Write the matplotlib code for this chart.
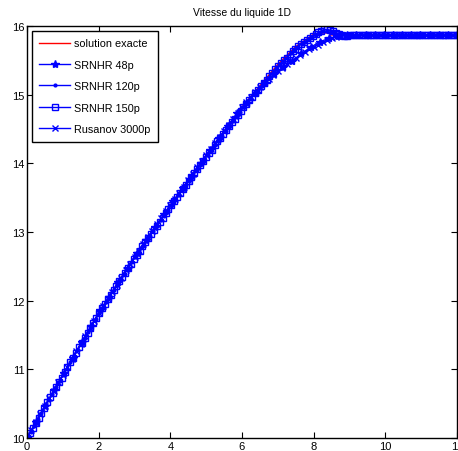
import numpy as np
import matplotlib
matplotlib.use("Agg")
import matplotlib.pyplot as plt

plt.rcParams['font.family'] = ['Liberation Sans', 'DejaVu Sans']

title = "Vitesse du liquide 1D"
labels = ["solution exacte", "SRNHR 48p", "SRNHR 120p", "SRNHR 150p", "Rusanov 3000p"]
xticks = [0, 2, 4, 6, 8, 10, 12]
yticks = [10, 11, 12, 13, 14, 15, 16]

# exact solution
x_exact = [0, 1, 2, 3, 4, 5, 6, 6.5, 7, 7.5, 8, 8.2, 8.45, 8.46, 12]
y_exact = [10.00, 10.92, 11.82, 12.64, 13.39, 14.12, 14.82, 15.13, 15.44, 15.70,
           15.88, 15.90, 15.90, 15.87, 15.87]

# SRNHR 48p (mesh 0..12, 48 points)
y_48 = [10.00, 10.23, 10.47, 10.70, 10.94, 11.17, 11.40, 11.63, 11.86, 12.06,
        12.27, 12.48, 12.69, 12.88, 13.07, 13.26, 13.45, 13.64, 13.82, 14.01,
        14.19, 14.37, 14.55, 14.73, 14.88, 15.03, 15.17, 15.30, 15.40, 15.49,
        15.60, 15.69, 15.77, 15.82, 15.85, 15.87, 15.87, 15.87, 15.87, 15.87,
        15.87, 15.87, 15.87, 15.87, 15.87, 15.87, 15.87, 15.87]

# SRNHR 120p (mesh 0..12, 120 points)
y_120 = [10.00, 10.09, 10.18, 10.28, 10.37, 10.46, 10.55, 10.64, 10.74, 10.83,
         10.92, 11.01, 11.10, 11.19, 11.28, 11.37, 11.46, 11.55, 11.64, 11.73,
         11.82, 11.90, 11.98, 12.07, 12.15, 12.23, 12.31, 12.39, 12.48, 12.56,
         12.64, 12.72, 12.79, 12.87, 12.94, 13.02, 13.09, 13.17, 13.24, 13.32,
         13.39, 13.46, 13.54, 13.61, 13.68, 13.76, 13.83, 13.90, 13.97, 14.05,
         14.12, 14.19, 14.26, 14.33, 14.40, 14.47, 14.54, 14.61, 14.68, 14.75,
         14.82, 14.88, 14.94, 15.01, 15.07, 15.13, 15.19, 15.25, 15.32, 15.38,
         15.44, 15.49, 15.54, 15.60, 15.65, 15.70, 15.74, 15.77, 15.81, 15.84,
         15.87, 15.90, 15.92, 15.93, 15.93, 15.91, 15.89, 15.88, 15.87, 15.86,
         15.87, 15.87, 15.87, 15.87, 15.87, 15.87, 15.87, 15.87, 15.87, 15.87,
         15.87, 15.87, 15.87, 15.87, 15.87, 15.87, 15.87, 15.87, 15.87, 15.87,
         15.87, 15.87, 15.87, 15.87, 15.87, 15.87, 15.87, 15.87, 15.87, 15.87]

# SRNHR 150p (mesh 0..12, 150 points)
y_150 = [10.00, 10.07, 10.15, 10.22, 10.29, 10.37, 10.44, 10.52, 10.59, 10.66,
         10.74, 10.81, 10.88, 10.96, 11.03, 11.10, 11.17, 11.24, 11.32, 11.39,
         11.46, 11.53, 11.60, 11.68, 11.75, 11.82, 11.89, 11.95, 12.02, 12.08,
         12.15, 12.21, 12.28, 12.34, 12.41, 12.48, 12.54, 12.61, 12.67, 12.73,
         12.79, 12.85, 12.91, 12.97, 13.03, 13.09, 13.15, 13.21, 13.27, 13.33,
         13.39, 13.45, 13.51, 13.57, 13.62, 13.68, 13.74, 13.80, 13.86, 13.92,
         13.97, 14.03, 14.09, 14.15, 14.20, 14.26, 14.32, 14.37, 14.43, 14.48,
         14.54, 14.60, 14.65, 14.71, 14.76, 14.82, 14.87, 14.92, 14.97, 15.02,
         15.07, 15.12, 15.17, 15.22, 15.27, 15.32, 15.37, 15.42, 15.46, 15.50,
         15.54, 15.59, 15.63, 15.67, 15.71, 15.74, 15.76, 15.79, 15.82, 15.85,
         15.88, 15.91, 15.93, 15.95, 15.95, 15.94, 15.92, 15.90, 15.88, 15.87,
         15.86, 15.86, 15.87, 15.87, 15.87, 15.87, 15.87, 15.87, 15.87, 15.87,
         15.87, 15.87, 15.87, 15.87, 15.87, 15.87, 15.87, 15.87, 15.87, 15.87,
         15.87, 15.87, 15.87, 15.87, 15.87, 15.87, 15.87, 15.87, 15.87, 15.87,
         15.87, 15.87, 15.87, 15.87, 15.87, 15.87, 15.87, 15.87, 15.87, 15.87]

# Rusanov (mesh 0..12, sampled every 0.125)
y_rus = [10.00, 10.12, 10.23, 10.35, 10.46, 10.58, 10.69, 10.81, 10.92, 11.03,
         11.15, 11.26, 11.37, 11.48, 11.60, 11.71, 11.82, 11.92, 12.03, 12.13,
         12.23, 12.33, 12.44, 12.54, 12.64, 12.73, 12.83, 12.92, 13.02, 13.11,
         13.20, 13.30, 13.39, 13.48, 13.57, 13.66, 13.76, 13.85, 13.94, 14.03,
         14.12, 14.21, 14.30, 14.38, 14.47, 14.56, 14.65, 14.73, 14.82, 14.89,
         14.97, 15.04, 15.11, 15.17, 15.23, 15.29, 15.34, 15.39, 15.44, 15.49,
         15.53, 15.58, 15.62, 15.66, 15.70, 15.73, 15.76, 15.79, 15.82, 15.84,
         15.85, 15.86, 15.87, 15.87, 15.87, 15.87, 15.87, 15.87, 15.87, 15.87,
         15.87, 15.87, 15.87, 15.87, 15.87, 15.87, 15.87, 15.87, 15.87, 15.87,
         15.87, 15.87, 15.87, 15.87, 15.87, 15.87, 15.87]

x_48 = np.linspace(0, 12, len(y_48))
x_120 = np.linspace(0, 12, len(y_120))
x_150 = np.linspace(0, 12, len(y_150))
x_rus = np.linspace(0, 12, len(y_rus))

fig = plt.figure(figsize=(4.58, 4.52), dpi=100)
ax = fig.add_axes([27/458, 13/452, 430/458, 412/452])

ax.plot(x_exact, y_exact, color='red', lw=1.0, label=labels[0], zorder=1)
ax.plot(x_48, y_48, color='blue', lw=1.0, marker='*', ms=6, mew=1.0, label=labels[1])
ax.plot(x_120, y_120, color='blue', lw=1.0, marker='.', ms=4, label=labels[2])
ax.plot(x_150, y_150, color='blue', lw=1.0, marker='s', ms=4.3, mfc='none', mew=1.0, label=labels[3])
ax.plot(x_rus, y_rus, color='blue', lw=1.0, marker='x', ms=4.2, mew=1.0, label=labels[4])

ax.set_xlim(0, 12)
ax.set_ylim(10, 16)
ax.set_xticks(xticks)
ax.set_yticks(yticks)
ax.tick_params(direction='in', top=True, right=True, length=4, width=0.8,
               labelsize=8, pad=2, colors='black')
for s in ax.spines.values():
    s.set_linewidth(1.0)
ax.set_title(title, fontsize=7.5, pad=8)

leg = ax.legend(loc='upper left', fontsize=7.8, frameon=True, fancybox=False,
                edgecolor='black', framealpha=1, handlelength=2.8, handletextpad=0.35,
                labelspacing=1.05, borderaxespad=0.45, borderpad=0.7)
leg.get_frame().set_linewidth(1.0)

fig.savefig("out.png", dpi=100)
